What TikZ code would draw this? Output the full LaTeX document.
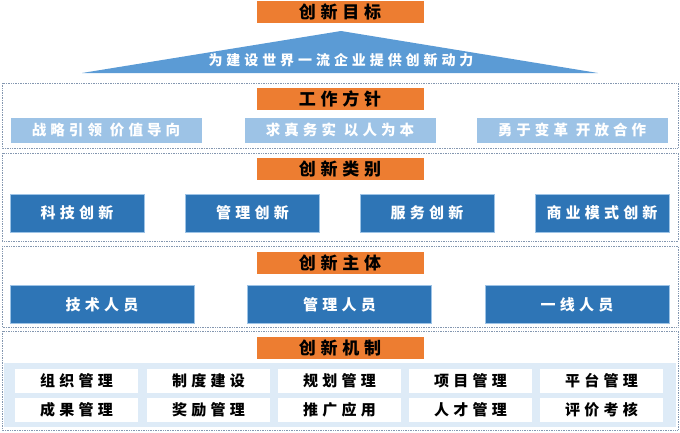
\documentclass[tikz,border=0pt]{standalone}
\usepackage{fontspec}
\newfontfamily\cjk{Noto Sans CJK SC}[LetterSpace=28]
\definecolor{goalorange}{HTML}{ED7D31}
\definecolor{triblue}{HTML}{5B9BD5}
\definecolor{paleblue}{HTML}{9DC3E6}
\definecolor{deepblue}{HTML}{2E75B6}
\definecolor{panelblue}{HTML}{DEEBF7}
\definecolor{framegray}{HTML}{8497B0}

\tikzset{
  titlebox/.style={fill=goalorange, draw=white, line width=0.6pt, minimum width=168pt, minimum height=23pt, inner sep=0pt, text=black, font=\cjk\bfseries\fontsize{17}{18}\selectfont},
  motto/.style={fill=paleblue, draw=white, minimum width=192pt, minimum height=26pt, inner sep=0pt, text=white, font=\cjk\bfseries\fontsize{14.5}{16}\selectfont},
  kindbox/.style={fill=deepblue, draw=paleblue, line width=0.6pt, minimum width=134pt, minimum height=38pt, inner sep=0pt, text=white, font=\cjk\bfseries\fontsize{15}{16}\selectfont},
  actorbox/.style={kindbox, minimum width=184pt},
  mechbox/.style={fill=white, minimum width=123pt, minimum height=24pt, inner sep=0pt, text=black, font=\cjk\bfseries\fontsize{15}{16}\selectfont},
  layer/.style={draw=framegray, densely dotted, line width=0.7pt}
}

\begin{document}
\begin{tikzpicture}[x=1pt, y=-1pt]
      \useasboundingbox (0,0) rectangle (680,432);
      \fill[triblue] (341,31) -- (598,73) -- (82,73) -- cycle;
      \draw[layer] (2,83) rectangle (678,148);
      \draw[layer] (2,153) rectangle (678,241);
      \draw[layer] (2,246) rectangle (678,327);
      \draw[layer] (2,331) rectangle (678,430);
      \fill[panelblue] (4,363) rectangle (676,427);
      \path
        (340,11.5) node[titlebox] (goal){创新目标}
        (341,60) node[text=white, font=\cjk\bfseries\fontsize{14}{15}\selectfont] (mission){为建设世界一流企业提供创新动力}
        (340,99) node[titlebox] (policy){工作方针}
        (106,130) node[motto] (lead){战略引领\hspace{0.55em}价值导向}
        (340,130) node[motto] (truth){求真务实\hspace{0.55em}以人为本}
        (572,130) node[motto] (reform){勇于变革\hspace{0.55em}开放合作}
        (340,169) node[titlebox] (kinds){创新类别}
        (77,213) node[kindbox] (tech){科技创新}
        (252.5,213) node[kindbox] (mgmt){管理创新}
        (427,213) node[kindbox] (service){服务创新}
        (602,213) node[kindbox] (business){商业模式创新}
        (340,262.5) node[titlebox] (actors){创新主体}
        (102,304.5) node[actorbox] (techstaff){技术人员}
        (339.5,304.5) node[actorbox] (mgmtstaff){管理人员}
        (577,304.5) node[actorbox] (frontline){一线人员}
        (340,347.5) node[titlebox] (mechanism){创新机制}
        (76.5,381) node[mechbox] (org){组织管理}
        (208.5,381) node[mechbox] (rules){制度建设}
        (339.5,381) node[mechbox] (plan){规划管理}
        (470.5,381) node[mechbox] (project){项目管理}
        (601.5,381) node[mechbox] (platform){平台管理}
        (76.5,410) node[mechbox] (result){成果管理}
        (208.5,410) node[mechbox] (reward){奖励管理}
        (339.5,410) node[mechbox] (promote){推广应用}
        (470.5,410) node[mechbox] (talent){人才管理}
        (601.5,410) node[mechbox] (assess){评价考核};
    \end{tikzpicture}
\end{document}
